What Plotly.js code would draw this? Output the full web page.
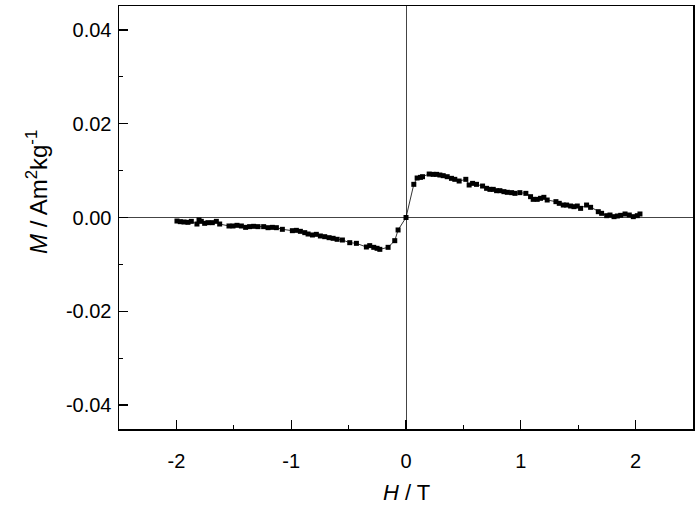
<!DOCTYPE html>
<html><head><meta charset="utf-8">
<script src="https://cdn.plot.ly/plotly-3.0.1.min.js"></script>
<style>html,body{margin:0;padding:0;background:#fff}#chart{width:700px;height:506px}</style>
</head><body><div id="chart"></div>
<script>
const fieldH = [-1.995,-1.966,-1.934,-1.899,-1.870,-1.821,-1.803,-1.783,-1.754,-1.725,-1.687,-1.652,-1.623,-1.542,-1.507,-1.472,-1.434,-1.397,-1.362,-1.327,-1.289,-1.240,-1.202,-1.164,-1.129,-1.077,-0.990,-0.955,-0.920,-0.882,-0.853,-0.815,-0.781,-0.746,-0.708,-0.670,-0.635,-0.600,-0.554,-0.490,-0.432,-0.345,-0.316,-0.281,-0.252,-0.228,-0.156,-0.098,-0.069,0.000,0.068,0.097,0.126,0.144,0.202,0.237,0.266,0.295,0.324,0.359,0.396,0.425,0.463,0.521,0.550,0.580,0.614,0.667,0.702,0.731,0.760,0.789,0.818,0.853,0.882,0.920,0.949,0.992,1.044,1.085,1.108,1.143,1.172,1.201,1.230,1.306,1.335,1.370,1.399,1.434,1.463,1.492,1.521,1.573,1.608,1.675,1.704,1.748,1.777,1.812,1.841,1.870,1.908,1.945,1.980,2.015,2.038];
const magM = [-0.00075,-0.00089,-0.00096,-0.00103,-0.00082,-0.00139,-0.00053,-0.00082,-0.00124,-0.0011,-0.0011,-0.00082,-0.00139,-0.00181,-0.00181,-0.00167,-0.00181,-0.0021,-0.00195,-0.00188,-0.00195,-0.00195,-0.00217,-0.0021,-0.00217,-0.00252,-0.00281,-0.00274,-0.00295,-0.00323,-0.00352,-0.00373,-0.00359,-0.00394,-0.00409,-0.0043,-0.00444,-0.00465,-0.0048,-0.00537,-0.00551,-0.00629,-0.006,-0.00636,-0.00657,-0.00679,-0.00636,-0.00494,-0.00266,0.0,0.00707,0.00842,0.00856,0.0087,0.00927,0.0092,0.0092,0.00906,0.00892,0.0087,0.00835,0.00814,0.00778,0.00814,0.00693,0.00728,0.00707,0.00671,0.00622,0.006,0.006,0.00572,0.00572,0.00551,0.00537,0.0053,0.00515,0.0053,0.00515,0.00444,0.00387,0.00387,0.00409,0.0043,0.00373,0.00338,0.00302,0.00266,0.00266,0.00245,0.00231,0.00245,0.00195,0.00266,0.00217,0.00124,0.00089,0.00039,0.00053,0.00018,0.00032,0.00046,0.00075,0.00053,0.00018,0.00039,0.00075];
const xTickVals = [-2,-1,0,1,2];
const xTickText = ["-2","-1","0","1","2"];
const yTickVals = [-0.04,-0.02,0,0.02,0.04];
const yTickText = ["-0.04","-0.02","0.00","0.02","0.04"];
const xTitle = '<i>H</i> / T';
const yTitle = '<i>M</i> / Am<sup>2</sup>kg<sup>-1</sup>';

const trace = {
  x: fieldH, y: magM, type: 'scatter', mode: 'lines+markers',
  line: {color: '#000', width: 0.8},
  marker: {symbol: 'square', size: 5, color: '#000'},
  cliponaxis: false
};
const fam = 'Liberation Sans, Arial, sans-serif';
const layout = {
  width: 700, height: 506,
  margin: {l: 119, r: 7, t: 6, b: 77},
  paper_bgcolor: '#fff', plot_bgcolor: '#fff',
  showlegend: false,
  font: {family: fam, color: '#000'},
  xaxis: {
    range: [-2.5, 2.5], tickmode: 'array', tickvals: xTickVals, ticktext: xTickText,
    ticks: 'inside', ticklen: 9, tickwidth: 1.2, tickcolor: '#000',
    minor: {tickmode: 'linear', tick0: 0, dtick: 0.5, ticks: 'inside', ticklen: 4, tickwidth: 1, tickcolor: '#000', showgrid: false},
    showline: true, linecolor: '#000', linewidth: 1.5, mirror: true,
    showgrid: false, zeroline: true, zerolinecolor: '#444', zerolinewidth: 1,
    ticklabelstandoff: 13,
    tickfont: {size: 20, family: fam, color: '#000'}
  },
  yaxis: {
    range: [-0.0451, 0.0451], tickmode: 'array', tickvals: yTickVals, ticktext: yTickText,
    ticks: 'inside', ticklen: 9, tickwidth: 1.2, tickcolor: '#000',
    minor: {tickmode: 'linear', tick0: 0, dtick: 0.01, ticks: 'inside', ticklen: 4, tickwidth: 1, tickcolor: '#000', showgrid: false},
    showline: true, linecolor: '#000', linewidth: 1.5, mirror: true,
    showgrid: false, zeroline: true, zerolinecolor: '#444', zerolinewidth: 1,
    ticklabelstandoff: 2,
    tickfont: {size: 20, family: fam, color: '#000'}
  },
  annotations: [
    {text: xTitle, xref: 'paper', yref: 'paper', x: 0.5, y: -0.151, xanchor: 'center', yanchor: 'middle',
     showarrow: false, font: {size: 22, family: fam, color: '#000'}},
    {text: yTitle, xref: 'paper', yref: 'paper', x: -0.143, y: 0.56, xanchor: 'center', yanchor: 'middle',
     textangle: -90, showarrow: false, font: {size: 24, family: fam, color: '#000'}}
  ]
};
Plotly.newPlot('chart', [trace], layout, {displayModeBar: false, staticPlot: true});
</script></body></html>
